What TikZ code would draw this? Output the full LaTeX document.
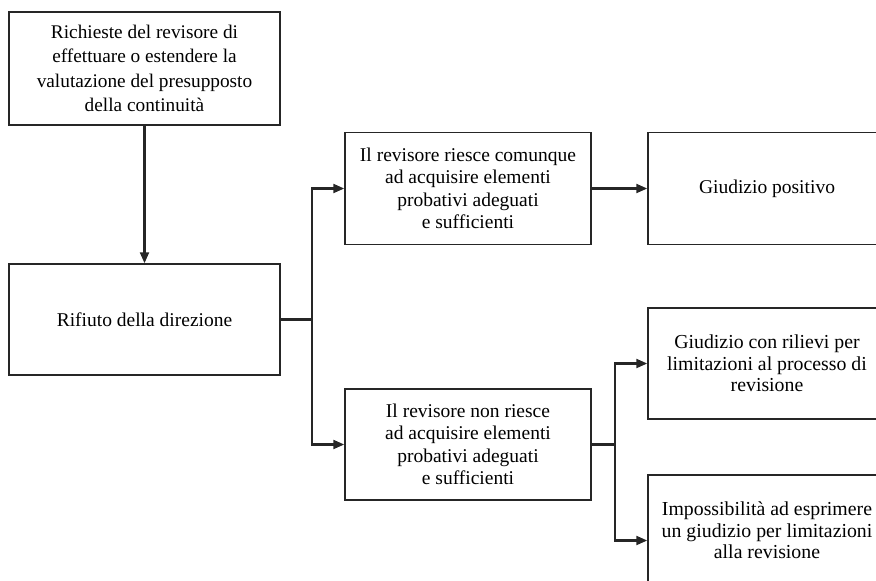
\documentclass[tikz,border=0pt]{standalone}
\usepackage{fontspec}
\setmainfont{Liberation Serif}
\usetikzlibrary{arrows.meta}
\tikzset{
  box/.style={draw=black!85,line width=1.5pt,align=center,inner sep=0pt,
    font=\fontsize{19.5}{22.5}\selectfont},
  wide/.style={font=\fontsize{19.3}{24.5}\selectfont},
  tight/.style={font=\fontsize{19.8}{21.5}\selectfont},
  conn/.style={draw=black!85,line width=2.2pt},
  arr/.style={conn,-{Triangle[length=11pt,width=9pt]}}}
\begin{document}
\begin{tikzpicture}[x=1pt,y=-1pt]
\useasboundingbox (0,0) rectangle (876,581);
\clip (0,0) rectangle (876,581);
\node[box,wide,minimum width=271pt,minimum height=113pt] (b1) at (144.5,68.5)
  {Richieste del revisore di\\effettuare o estendere la\\valutazione del presupposto\\della continuità};
\node[box,minimum width=271pt,minimum height=111pt] (b2) at (144.5,319.5)
  {Rifiuto della direzione};
\node[box,minimum width=246pt,minimum height=112pt] (b3) at (468,188.5)
  {Il revisore riesce comunque\\ad acquisire elementi\\probativi adeguati\\e sufficienti};
\node[box,minimum width=238pt,minimum height=112pt] (b4) at (767,188.5)
  {Giudizio positivo};
\node[box,minimum width=246pt,minimum height=111pt] (b5) at (468,444.5)
  {Il revisore non riesce\\ad acquisire elementi\\probativi adeguati\\e sufficienti};
\node[box,tight,minimum width=238pt,minimum height=111pt] (b6) at (767,363.5)
  {Giudizio con rilievi per\\limitazioni al processo di\\revisione};
\node[box,tight,minimum width=238pt,minimum height=111pt] (b7) at (767,530.5)
  {Impossibilità ad esprimere\\un giudizio per limitazioni\\alla revisione};
\coordinate (f1) at (312,319.5);
\coordinate (f2) at (615,444.5);
\draw[arr] (b1.south) -- (b2.north);
\draw[conn] (b2.east) -- (f1);
\draw[arr] (f1) |- (b3.west);
\draw[arr] (f1) |- (b5.west);
\draw[arr] (b3.east) -- (b4.west);
\draw[conn] (b5.east) -- (f2);
\draw[arr] (f2) |- (b6.west);
\draw[arr] (f2) |- ([yshift=-10pt]b7.west);
\end{tikzpicture}
\end{document}
